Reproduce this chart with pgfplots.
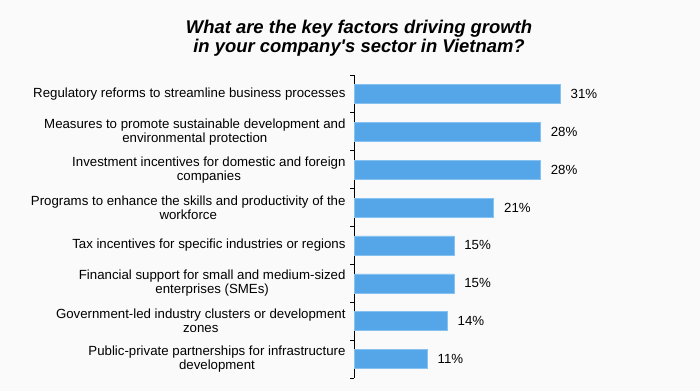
\documentclass[border=0pt]{standalone}
\usepackage{pgfplots}
\pgfplotsset{compat=1.18}
\usepackage{fontspec}
\setmainfont{Liberation Sans}
\definecolor{barblue}{HTML}{54A6E8}
\definecolor{bg}{HTML}{FAFAFA}
\begin{document}
\begin{tikzpicture}[x=1bp,y=1bp]
\fill[bg] (0,0) rectangle (700,391);
\node[align=center,font=\fontsize{18.5}{19.5}\selectfont\bfseries\itshape] at (359,353) {What are the key factors driving growth\\in your company\textquotesingle s sector in Vietnam?};
\begin{axis}[
  at={(354bp,13bp)}, anchor=south west,
  scale only axis, width=266bp, height=303bp,
  xbar, bar width=19bp,
  xmin=0, xmax=40,
  ymin=-0.5, ymax=7.5, y dir=reverse,
  hide x axis,
  axis y line*=left,
  axis line style={black, line width=0.8pt},
  ytick={0,...,7},
  major tick length=0pt,
  minor ytick={-0.5,0.5,...,7.5},
  minor tick length=4bp,
  tick align=outside,
  minor tick style={black, line width=0.8pt},
  /pgf/number format/assume math mode=true,
  yticklabels={
    {Regulatory reforms to streamline business processes},
    {Measures to promote sustainable development and\\environmental protection},
    {Investment incentives for domestic and foreign\\companies},
    {Programs to enhance the skills and productivity of the\\workforce},
    {Tax incentives for specific industries or regions},
    {Financial support for small and medium-sized\\enterprises (SMEs)},
    {Government-led industry clusters or development\\zones},
    {Public-private partnerships for infrastructure\\development}
  },
  yticklabel style={align=center, font=\fontsize{13.3}{14}\selectfont, xshift=-5bp},
  nodes near coords={\pgfmathprintnumber{\pgfplotspointmeta}\%},
  nodes near coords style={font=\fontsize{13.3}{14}\selectfont, xshift=7bp},
  point meta=x,
  clip=false,
]
\addplot[fill=barblue, draw=barblue!70!white, line width=0.5pt] coordinates {
  (31,0) (28,1) (28,2) (21,3) (15,4) (15,5) (14,6) (11,7)
};
\end{axis}
\end{tikzpicture}
\end{document}
